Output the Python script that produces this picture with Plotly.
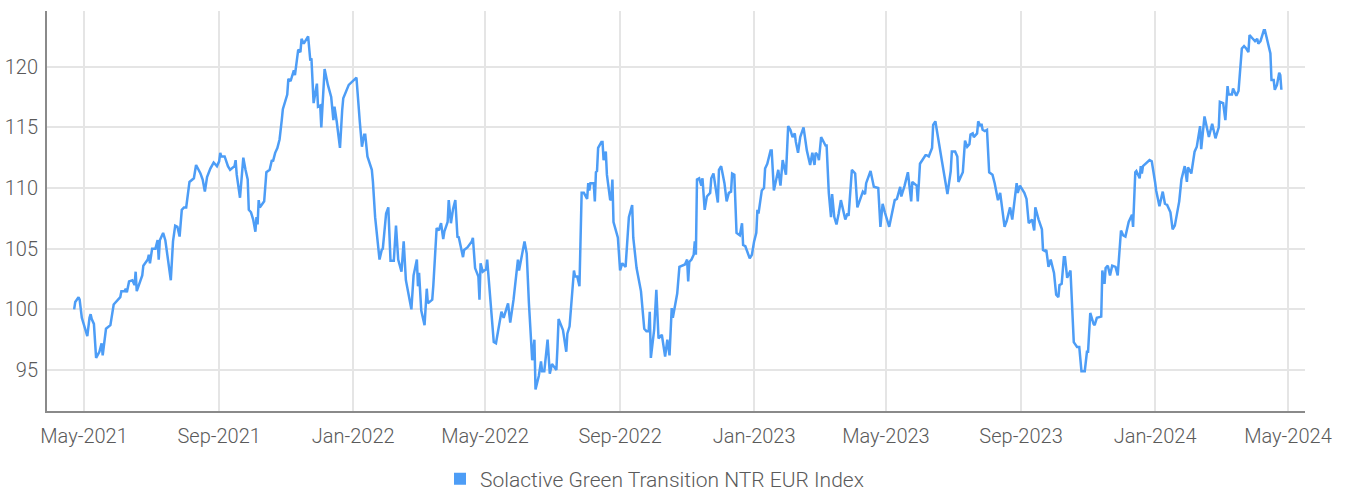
import pandas as pd
import plotly.graph_objects as go

series_name = "Solactive Green Transition NTR EUR Index"
start_date = "2021-05-01"

# days since start_date
day_offsets = [
    -9, -8, -5, -4, -2, 0, 3, 5, 6, 7, 9, 11, 14, 16, 17, 20, 24, 27, 31, 33,
    34, 37, 38, 39, 41, 44, 46, 47, 48, 52, 53, 54, 58, 59, 60, 62, 65, 67, 68, 69,
    72, 74, 79, 81, 83, 85, 87, 89, 91, 93, 96, 100, 102, 106, 108, 110, 112, 115, 116, 118,
    121, 123, 124, 125,
    128, 131, 133, 137, 138, 139, 142, 145, 147, 149, 150, 152, 154, 156, 157, 158, 159, 160, 164, 166,
    169, 171, 172, 174, 176, 178, 180, 181, 185, 186, 188, 191, 192, 195, 197, 198, 200, 202, 204, 206,
    207, 209, 212, 213, 215, 216, 219, 222, 225, 227, 228, 230, 233, 235, 236, 241, 247, 248, 251, 253,
    255, 256, 258, 262, 263, 265,
    269, 271, 272, 275, 277, 279, 282, 284, 286, 289, 291, 293, 298, 300, 303, 304, 305, 307, 310, 312,
    313, 317, 318, 320, 321, 323, 325, 327, 328, 331, 332, 334, 336, 338, 340, 341, 345, 346, 349, 353,
    354, 356, 359, 360, 361, 363, 366, 367, 370, 373, 375, 380, 382, 385, 386, 388, 391, 395, 396, 401,
    403, 405, 408, 410, 411,
    414, 416, 417, 419, 422, 424, 426, 430, 431, 432, 436, 439, 440, 442, 446, 447, 449, 451, 453, 455,
    458, 459, 460, 461, 464, 465, 466, 467, 468, 471, 472, 473, 475, 476, 479, 480, 481, 482, 486, 488,
    490, 493, 496, 499, 500, 503, 507, 510, 512, 514, 515, 516, 519, 521, 523, 526, 529, 531, 533, 535,
    536, 540, 542, 547, 549, 550, 551,
    553, 555, 556, 557, 558, 560, 562, 563, 565, 567, 570, 571, 573, 577, 578, 580, 583, 585, 587, 589,
    590, 592, 594, 597, 599, 600, 602, 606, 608, 610, 612, 613, 614, 617, 619, 620, 622, 625, 626, 628,
    630, 632, 634, 636, 639, 641, 643, 645, 647, 648, 650, 652, 655, 656, 658, 661, 663, 665, 666, 668,
    669, 671, 674, 675, 676, 678, 680, 681, 683, 685, 687, 689,
    693, 695, 696, 699, 702, 704, 709, 711, 712, 716, 719, 723, 725, 727, 729, 733, 738, 740, 743, 744,
    747, 750, 753, 754, 758, 759, 761, 766, 767, 769, 772, 773, 775, 776, 781, 786, 789, 790, 793, 795,
    796, 800, 802, 804, 806, 807, 809, 810, 813, 814, 816, 817, 818, 820, 822, 824, 827, 829, 832,
    834, 836, 838, 840, 843, 845, 847, 849, 850, 852, 856, 858, 860, 863, 865, 866, 869, 872, 873, 875,
    876, 878, 880, 883, 885, 887, 888, 890, 892, 893, 895, 898, 901, 904, 906, 908, 911, 913, 914, 916,
    919, 920, 922, 926, 927, 929, 930, 932, 934, 936, 939, 941, 944, 946, 948, 951, 954, 955, 957, 958,
    961, 962, 963, 964, 970, 972,
    975, 976, 979, 982, 984, 986, 989, 991, 993, 995, 997, 999, 1002, 1004, 1005, 1008, 1011, 1013, 1016, 1017,
    1020, 1024, 1027, 1030, 1033, 1034, 1037, 1039, 1041, 1042, 1045, 1046, 1049, 1051, 1054, 1056, 1058, 1060, 1061, 1064,
    1066, 1068, 1069, 1071, 1074, 1075, 1077, 1080, 1081, 1083, 1084, 1086, 1088, 1089, 1090,
]

index_values = [
    100.0, 100.6, 101.0, 100.8, 99.3, 98.7, 97.8, 99.3, 99.6, 99.2, 98.8, 96.0, 96.5, 97.2, 96.2, 98.4, 98.7, 100.4, 100.8, 101.0,
    101.5, 101.5, 101.7, 101.4, 102.3, 102.4, 102.0, 103.1, 101.5, 102.7, 102.8, 103.6, 104.1, 104.5, 103.8, 105.0, 105.0, 105.7, 104.1, 105.7,
    106.3, 105.7, 102.4, 105.6, 106.9, 106.8, 106.0, 108.2, 108.4, 108.4, 110.5, 110.8, 111.9, 111.2, 110.7, 109.7, 110.9, 111.6, 111.8, 112.1,
    111.8, 112.2, 112.9, 112.6,
    112.6, 111.8, 111.5, 111.8, 112.3, 111.1, 109.2, 112.5, 111.5, 110.7, 108.2, 108.0, 107.4, 106.4, 107.6, 107.0, 109.0, 108.4, 108.9, 111.3,
    111.5, 112.3, 112.2, 112.9, 113.3, 114.0, 115.6, 116.5, 117.7, 119.0, 118.8, 119.7, 119.3, 121.4, 121.2, 122.3, 121.9, 122.2, 122.5, 120.5,
    120.7, 117.0, 118.6, 116.7, 116.8, 115.0, 119.8, 118.5, 117.5, 115.6, 116.7, 115.5, 113.3, 116.4, 117.4, 118.5, 119.0, 119.1, 115.5, 113.4,
    114.4, 114.4, 112.6, 111.5, 110.5, 107.6,
    104.1, 104.9, 105.0, 107.9, 108.4, 104.0, 104.0, 106.9, 104.1, 103.1, 105.6, 102.4, 100.0, 102.8, 104.1, 101.9, 103.0, 99.9, 98.7, 101.7,
    100.5, 100.8, 102.0, 104.6, 106.7, 106.5, 107.1, 105.8, 106.4, 107.2, 109.0, 107.1, 108.3, 109.0, 105.9, 106.0, 104.3, 104.9, 105.1, 105.6,
    105.9, 103.4, 102.7, 100.8, 103.8, 103.1, 103.3, 104.1, 101.0, 97.3, 97.2, 99.8, 99.3, 100.2, 100.5, 98.9, 100.8, 104.1, 103.2, 105.6,
    104.6, 100.5, 95.8, 97.5, 93.4,
    94.5, 95.7, 94.9, 94.9, 97.5, 94.7, 95.5, 95.0, 96.9, 99.2, 98.3, 96.5, 98.0, 98.6, 103.2, 102.7, 102.7, 101.9, 109.6, 109.6,
    109.1, 110.4, 109.8, 110.4, 110.4, 108.9, 111.3, 111.4, 113.3, 113.8, 113.8, 112.3, 113.0, 111.1, 109.0, 109.1, 110.7, 107.2, 105.9, 103.2,
    103.8, 103.5, 107.6, 108.6, 105.9, 103.4, 101.5, 98.4, 98.2, 98.2, 99.8, 96.0, 98.3, 101.6, 97.6, 97.9, 96.1, 97.5, 96.2, 100.1,
    99.3, 101.3, 103.5, 103.7, 104.1, 102.3, 103.9,
    104.1, 104.5, 105.6, 104.5, 110.7, 110.8, 110.2, 110.8, 108.2, 109.3, 109.6, 110.8, 111.2, 108.8, 111.5, 111.8, 110.4, 108.9, 109.6, 109.7,
    111.2, 111.1, 106.3, 106.1, 107.1, 105.3, 105.2, 104.2, 104.5, 105.6, 106.3, 108.2, 107.9, 109.8, 110.0, 111.6, 112.0, 113.1, 113.1, 109.8,
    110.8, 111.5, 110.2, 112.3, 111.1, 115.1, 114.8, 114.2, 114.5, 113.8, 112.9, 114.2, 115.0, 114.2, 113.1, 111.9, 112.9, 111.9, 112.9, 112.7,
    112.3, 114.2, 113.7, 113.5, 113.5, 109.6, 107.6, 109.5, 107.6, 107.0, 107.9, 109.0,
    107.4, 107.9, 107.7, 111.5, 111.2, 108.4, 109.7, 109.5, 110.4, 111.4, 110.1, 110.0, 106.8, 108.7, 108.0, 106.8, 109.0, 109.1, 110.1, 109.3,
    110.2, 111.3, 108.9, 110.5, 110.2, 108.9, 112.0, 112.7, 112.7, 112.6, 113.3, 115.2, 115.5, 114.9, 112.2, 109.5, 111.4, 113.0, 113.0, 112.6,
    110.5, 111.3, 113.9, 113.4, 113.6, 114.4, 114.5, 114.2, 114.5, 115.5, 115.1, 115.3, 114.8, 114.7, 114.8, 111.3, 111.1, 110.4, 109.0,
    109.6, 108.2, 106.8, 107.3, 108.4, 107.4, 108.9, 110.4, 109.6, 110.2, 109.6, 109.1, 107.1, 107.4, 106.5, 108.4, 107.4, 106.6, 104.9, 104.8,
    104.9, 103.5, 104.1, 103.0, 101.2, 101.0, 102.0, 102.1, 104.3, 104.3, 102.6, 103.2, 97.3, 96.9, 96.9, 94.9, 94.9, 96.5, 96.5, 99.7,
    98.8, 98.7, 99.3, 99.4, 103.2, 102.1, 103.4, 103.6, 102.8, 103.6, 103.5, 102.8, 106.5, 106.1, 106.0, 107.2, 107.8, 106.8, 111.3, 111.4,
    110.8, 111.8, 111.2, 111.8, 112.3, 112.2,
    110.5, 109.8, 108.5, 109.7, 108.7, 108.6, 108.0, 106.6, 106.9, 107.9, 108.9, 110.7, 111.8, 110.5, 111.7, 111.2, 113.0, 113.4, 115.1, 113.2,
    115.9, 114.2, 115.3, 114.1, 115.0, 117.1, 117.0, 115.6, 118.4, 117.7, 117.7, 118.2, 117.6, 118.0, 121.5, 121.7, 121.5, 121.2, 122.6, 122.3,
    122.1, 122.3, 121.9, 122.1, 123.0, 123.0, 122.3, 121.1, 118.9, 118.9, 118.1, 118.5, 119.5, 119.3, 118.1,
]

x_range = ["2021-03-28 07:00", "2024-05-16 12:00"]
y_range = [91.62, 124.59]
tick_format = "%b-%Y"

dates = pd.Timestamp(start_date) + pd.to_timedelta(day_offsets, unit="D")

line_color = "#4d9df6"
font_family = "Roboto, sans-serif"
text_color = "#5a5a5a"

fig = go.Figure()
fig.add_trace(go.Scatter(
    x=dates, y=index_values, mode="lines",
    line=dict(color=line_color, width=2.5),
    name=series_name, showlegend=False,
))
fig.add_trace(go.Scatter(
    x=[None], y=[None], mode="markers",
    marker=dict(symbol="square", size=12, color=line_color),
    name=series_name, showlegend=True,
))

fig.update_layout(
    width=1346, height=494,
    margin=dict(l=47, r=41, t=11, b=83, autoexpand=False),
    plot_bgcolor="white", paper_bgcolor="white",
    font=dict(family=font_family, size=20, color=text_color, weight=300),
    legend=dict(orientation="h", x=0.3124, xanchor="left", y=-0.17, yanchor="middle",
                font=dict(family=font_family, size=21, color=text_color, weight=300),
                itemwidth=30),
)
fig.update_xaxes(
    type="date", range=x_range, dtick="M4", tick0="2021-01-01", tickformat=tick_format,
    showgrid=True, gridcolor="#e5e5e5", gridwidth=2, automargin=False, ticklabelstandoff=6,
    showline=True, linecolor="#8a8a8a", linewidth=2, ticks="", zeroline=False,
)
fig.update_yaxes(
    range=y_range, dtick=5, tick0=0, automargin=False, ticklabelstandoff=3,
    showgrid=True, gridcolor="#e5e5e5", gridwidth=2,
    showline=True, linecolor="#8a8a8a", linewidth=2, ticks="", zeroline=False,
)

fig.write_html("out.html", config={"displayModeBar": False},
               post_script="document.body.style.margin='0';")
